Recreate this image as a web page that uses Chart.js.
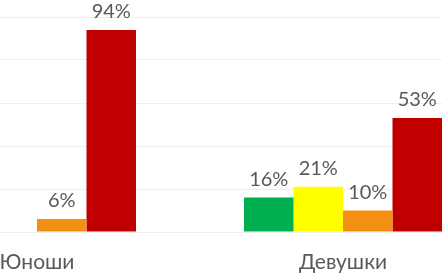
<!DOCTYPE html>
<html>
<head>
<meta charset="utf-8">
<script src="https://cdn.jsdelivr.net/npm/chart.js@4"></script>
<style>
  html, body { margin: 0; padding: 0; background: #ffffff; overflow: hidden; }
  #wrap { position: relative; width: 442px; height: 276px; overflow: hidden; }
  #c { position: absolute; left: -116px; top: 0; }
</style>
</head>
<body>
<div id="wrap"><canvas id="c" width="612" height="276"></canvas></div>
<script>
const categories = ["Юноши", "Девушки"];
const greenValues = [0, 16];
const yellowValues = [0, 21];
const orangeValues = [6, 10];
const redValues = [94, 53];
const yTicks = [0, 20, 40, 60, 80, 100];

const FONT = "Lato, 'Noto Sans', sans-serif";
const TEXT = "#595959";

const labelPlugin = {
  id: 'valueLabels',
  afterDatasetsDraw(chart) {
    const ctx = chart.ctx;
    ctx.save();
    ctx.font = "20px " + FONT;
    ctx.fillStyle = TEXT;
    ctx.textAlign = 'center';
    ctx.textBaseline = 'alphabetic';
    chart.data.datasets.forEach((ds, i) => {
      const meta = chart.getDatasetMeta(i);
      meta.data.forEach((bar, j) => {
        const v = ds.data[j];
        if (!v) return;
        ctx.fillText(v + "%", bar.x, bar.y - 12);
      });
    });
    ctx.restore();
  }
};

new Chart(document.getElementById('c'), {
  type: 'bar',
  data: {
    labels: categories,
    datasets: [
      { data: greenValues, backgroundColor: '#00b050' },
      { data: yellowValues, backgroundColor: '#ffff00' },
      { data: orangeValues, backgroundColor: '#f39014' },
      { data: redValues, backgroundColor: '#c00000' }
    ]
  },
  options: {
    responsive: false,
    animation: false,
    devicePixelRatio: 1,
    layout: { padding: { top: 17, left: 0, right: 0, bottom: 0 } },
    datasets: { bar: { categoryPercentage: 0.647, barPercentage: 1.0, borderWidth: 0 } },
    plugins: { legend: { display: false }, tooltip: { enabled: false } },
    scales: {
      x: {
        grid: { display: false, drawTicks: false },
        border: { display: false },
        ticks: { color: TEXT, font: { family: FONT, size: 21 }, padding: 18 },
        afterFit(scale) { scale.height = 44; }
      },
      y: {
        min: 0, max: 100,
        afterBuildTicks(scale) { scale.ticks = yTicks.map(v => ({ value: v })); },
        ticks: { display: false },
        grid: { color: '#eeeeee', drawTicks: false, lineWidth: 1 },
        border: { display: false },
        afterFit(scale) { scale.width = 0; }
      }
    }
  },
  plugins: [labelPlugin]
});
</script>
</body>
</html>
